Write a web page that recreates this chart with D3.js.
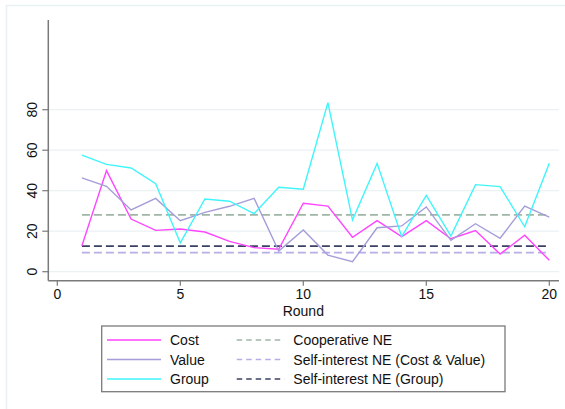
<!DOCTYPE html>
<html>
<head>
<meta charset="utf-8">
<script src="https://cdn.jsdelivr.net/npm/d3@7"></script>
<style>
  html, body { margin: 0; padding: 0; background: #fff; }
  svg { display: block; font-family: "Liberation Sans", Arial, Helvetica, sans-serif; }
</style>
</head>
<body>
<svg id="chart" width="565" height="409"></svg>
<script>
// Rounds 1..20
const rounds = d3.range(1, 21);

// Average per round
const cost  = [12.8, 49.9, 26.0, 20.4, 21.1, 19.6, 15.0, 11.9, 11.1, 33.8,
               32.4, 17.0, 25.2, 17.3, 25.2, 16.3, 20.3, 8.7, 18.0, 5.6];
const value = [46.3, 42.2, 30.5, 36.2, 25.2, 29.3, 32.3, 36.2, 10.2, 20.6,
               8.2, 4.9, 21.7, 22.6, 32.0, 15.5, 23.7, 16.5, 32.4, 26.9];
const group = [57.6, 53.0, 51.2, 43.5, 14.2, 35.9, 34.8, 28.7, 41.7, 40.7,
               83.5, 25.5, 53.5, 17.3, 37.7, 17.6, 43.0, 42.0, 22.2, 53.5];

// Equilibrium benchmarks
const cooperativeNE = 28.1;
const selfNECostValue = 9.4;
const selfNEGroup = 12.6;

const xTicks = [0, 5, 10, 15, 20];
const yTicks = [0, 20, 40, 60, 80];

const solidSeries = [
  { name: "Cost",  values: cost,  color: "#ff45ff" },
  { name: "Value", values: value, color: "#a49dd8" },
  { name: "Group", values: group, color: "#3ef5fb" }
];
const dashedSeries = [
  { name: "Cooperative NE", level: cooperativeNE, color: "#9fb5a6" },
  { name: "Self-interest NE (Cost & Value)", level: selfNECostValue, color: "#b6aee6" },
  { name: "Self-interest NE (Group)", level: selfNEGroup, color: "#3b4163" }
];

const svg = d3.select("#chart");

// outer graph-region frame
svg.append("rect")
  .attr("x", 6.5).attr("y", 5.5)
  .attr("width", 570).attr("height", 420)
  .attr("fill", "none").attr("stroke", "#e7f0f3").attr("stroke-width", 1.5);

const x = d3.scaleLinear().domain([0, 20]).range([57.3, 549.3]);
const y = d3.scaleLinear().domain([0, 80]).range([271.7, 109.7]);

const plotLeft = 48.3, plotRight = 559, plotTop = 20, plotBottom = 280.7;

// gridlines
svg.append("g")
  .selectAll("line").data(yTicks).join("line")
  .attr("x1", plotLeft).attr("x2", plotRight)
  .attr("y1", d => y(d)).attr("y2", d => y(d))
  .attr("stroke", "#eaf2f4").attr("stroke-width", 1.2);

// benchmark dashed lines across rounds
svg.append("g")
  .selectAll("line").data(dashedSeries).join("line")
  .attr("x1", x(1)).attr("x2", x(20))
  .attr("y1", d => y(d.level)).attr("y2", d => y(d.level))
  .attr("stroke", d => d.color).attr("stroke-width", 1.8)
  .attr("stroke-dasharray", "8,4");

// series lines
const line = d3.line().x((d, i) => x(rounds[i])).y(d => y(d));
svg.append("g")
  .selectAll("path").data(solidSeries).join("path")
  .attr("d", d => line(d.values))
  .attr("fill", "none")
  .attr("stroke", d => d.color)
  .attr("stroke-width", 1.4)
  .attr("stroke-linejoin", "miter");

// y axis
const yAxis = svg.append("g");
yAxis.append("line")
  .attr("x1", plotLeft).attr("x2", plotLeft)
  .attr("y1", plotTop).attr("y2", plotBottom)
  .attr("stroke", "#7a7a7a").attr("stroke-width", 1.5);
yAxis.selectAll(".tick").data(yTicks).join("line")
  .attr("x1", plotLeft - 6).attr("x2", plotLeft)
  .attr("y1", d => y(d)).attr("y2", d => y(d))
  .attr("stroke", "#7a7a7a").attr("stroke-width", 1.2);
yAxis.selectAll("text").data(yTicks).join("text")
  .attr("transform", d => `translate(37,${y(d)}) rotate(-90)`)
  .attr("text-anchor", "middle")
  .attr("font-size", 14)
  .attr("fill", "#111")
  .text(d => d);

// x axis
const xAxis = svg.append("g");
xAxis.append("line")
  .attr("x1", plotLeft).attr("x2", plotRight)
  .attr("y1", plotBottom).attr("y2", plotBottom)
  .attr("stroke", "#7a7a7a").attr("stroke-width", 1.5);
xAxis.selectAll(".tick").data(xTicks).join("line")
  .attr("x1", d => x(d)).attr("x2", d => x(d))
  .attr("y1", plotBottom).attr("y2", plotBottom + 5)
  .attr("stroke", "#7a7a7a").attr("stroke-width", 1.2);
xAxis.selectAll("text").data(xTicks).join("text")
  .attr("x", d => x(d)).attr("y", 299)
  .attr("text-anchor", "middle")
  .attr("font-size", 14)
  .attr("fill", "#111")
  .text(d => d);
svg.append("text")
  .attr("x", x(10)).attr("y", 316)
  .attr("text-anchor", "middle")
  .attr("font-size", 14)
  .attr("fill", "#111")
  .text("Round");

// legend
const legend = svg.append("g");
legend.append("rect")
  .attr("x", 101.7).attr("y", 326)
  .attr("width", 403.3).attr("height", 65.7)
  .attr("fill", "#fff").attr("stroke", "#7a7a7a").attr("stroke-width", 1.3);
const rowY = [340, 359.5, 379];
solidSeries.forEach((s, i) => {
  legend.append("line")
    .attr("x1", 107).attr("x2", 161)
    .attr("y1", rowY[i]).attr("y2", rowY[i])
    .attr("stroke", s.color).attr("stroke-width", 1.4);
  legend.append("text")
    .attr("x", 170).attr("y", rowY[i] + 5)
    .attr("font-size", 14).attr("fill", "#111")
    .text(s.name);
});
dashedSeries.forEach((s, i) => {
  legend.append("line")
    .attr("x1", 236.7).attr("x2", 284.3)
    .attr("y1", rowY[i]).attr("y2", rowY[i])
    .attr("stroke", s.color).attr("stroke-width", 1.4)
    .attr("stroke-dasharray", "5.5,4");
  legend.append("text")
    .attr("x", 293.3).attr("y", rowY[i] + 5)
    .attr("font-size", 14).attr("fill", "#111")
    .text(s.name);
});
</script>
</body>
</html>
